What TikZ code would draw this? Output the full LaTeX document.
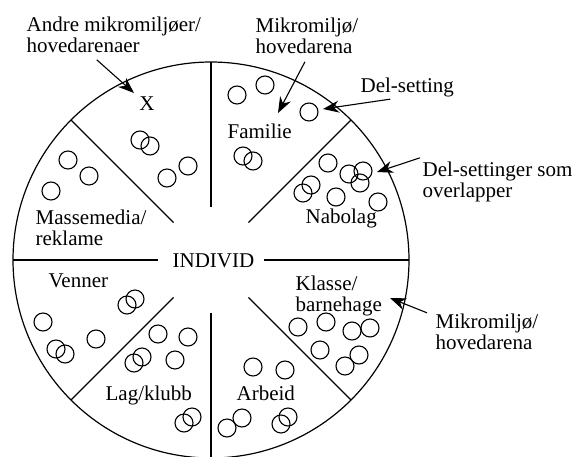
\documentclass[tikz,border=0pt]{standalone}
\usepackage{fontspec}
\setmainfont{Liberation Serif}
\usetikzlibrary{arrows.meta,calc}

\begin{document}
\begin{tikzpicture}[x=1pt,y=-1pt,line width=1.2pt,every node/.style={font=\fontsize{21}{21}\selectfont,align=left,inner sep=0pt},lab/.style={anchor=base west},pil/.style={-{Stealth[length=16pt,width=12pt]},line width=1.1pt},sub/.style={line width=1.1pt}]
\useasboundingbox (0,0) rectangle (576,456);
\coordinate (c) at (211,260);
\draw (c) circle (198pt);
\foreach \a in {0,45,...,315}
  \draw ($(c)+(\a:53)$) -- ($(c)+(\a:198)$);
\node[lab] (individ) at (172,267) {INDIVID};
\node[anchor=base] (x) at (147,110) {X};
\node[lab] (familie) at (227,138) {Familie};
\node[lab] (nabolag) at (305,223) {Nabolag};
\node[lab] (masse) at (35,245) {Massemedia/\\reklame};
\node[lab] (venner) at (48,287) {Venner};
\node[lab] (lag) at (105,400) {Lag/klubb};
\node[lab] (arbeid) at (236,400) {Arbeid};
\node[lab] (klasse) at (295,311) {Klasse/\\barnehage};
\foreach \x/\y in {140/140,150/146,167/178,188/166,237/95,265/85,309/112,243/156,253/161,328/163,303/193,311/185,336/197,349/174,363/171,360/183,378/202,68/160,89/176,51/191,43/322,56/349,65/354,96/339,127/305,135/299,158/334,188/337,134/363,142/357,175/360,184/423,192/417,253/367,285/370,227/428,242/418,281/424,288/417,298/327,326/322,352/331,370/328,320/350,345/366,359/355}
  \draw[sub] (\x,\y) circle (9pt);
\node[lab] (andre) at (26,52) {Andre mikromiljøer/\\hovedarenaer};
\node[lab] (mikro) at (255,53) {Mikromiljø/\\hovedarena};
\node[lab] (delset) at (360,92) {Del-setting};
\node[lab] (delover) at (422,197) {Del-settinger som\\overlapper};
\node[lab] (mikroto) at (435,349) {Mikromiljø/\\hovedarena};
\coordinate (xtip) at (134,93);
\coordinate (famtip) at (278,113);
\coordinate (deltip) at (323,109);
\coordinate (overtip) at (377,172);
\coordinate (klassetip) at (390,298);
\draw[pil] ([shift={(-17,7)}]andre.south) -- (xtip);
\draw[pil] ([shift={(-2,8)}]mikro.south) -- (famtip);
\draw[pil] ([shift={(-17,2)}]delset.south) -- (deltip);
\draw[pil] ([shift={(-2,-3)}]delover.north west) -- (overtip);
\draw[pil] ([shift={(-8,0)}]mikroto.north west) -- (klassetip);
\end{tikzpicture}
\end{document}
